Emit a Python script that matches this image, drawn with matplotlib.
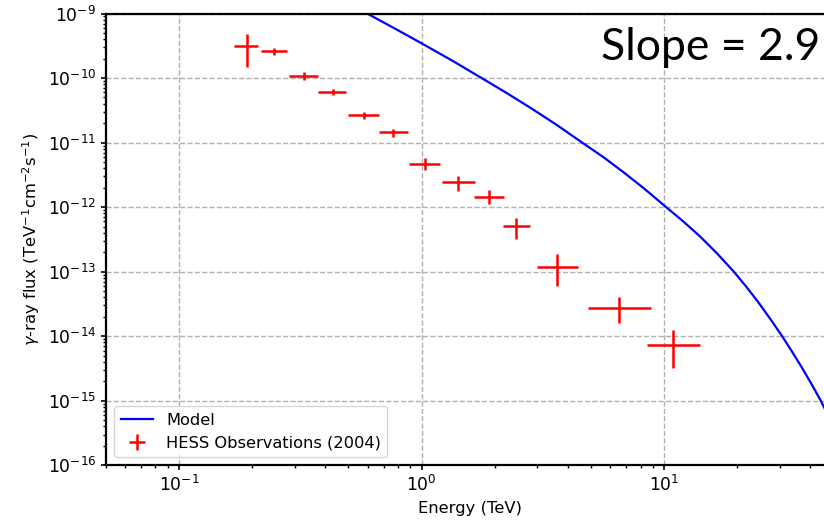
import matplotlib
matplotlib.use('Agg')
import matplotlib.pyplot as plt
import numpy as np

# HESS spectrum points: energy (TeV), flux, and the bin / error extents
energy = [0.190, 0.246, 0.327, 0.430, 0.578, 0.764, 1.029, 1.41, 1.89, 2.455, 3.625, 6.55, 10.87]
e_low = [0.169, 0.217, 0.284, 0.375, 0.500, 0.667, 0.886, 1.21, 1.643, 2.164, 2.99, 4.88, 8.47]
e_high = [0.212, 0.279, 0.375, 0.490, 0.671, 0.878, 1.19, 1.654, 2.185, 2.797, 4.41, 8.80, 14.01]
flux = [3.18e-10, 2.63e-10, 1.09e-10, 6.10e-11, 2.65e-11, 1.45e-11, 4.68e-12, 2.44e-12, 1.46e-12,
        5.08e-13, 1.20e-13, 2.73e-14, 7.40e-15]
flux_low = [1.50e-10, 2.28e-10, 9.35e-11, 5.42e-11, 2.30e-11, 1.24e-11, 3.74e-12, 1.79e-12, 1.11e-12,
            3.23e-13, 5.90e-14, 1.62e-14, 3.18e-15]
flux_high = [4.82e-10, 2.89e-10, 1.23e-10, 6.78e-11, 3.02e-11, 1.65e-11, 5.79e-12, 3.05e-12, 1.83e-12,
             6.90e-13, 1.87e-13, 3.99e-14, 1.25e-14]

# model spectrum
model_e = [0.597, 0.778, 1.0, 1.333, 1.77, 2.254, 2.858, 3.625, 4.596, 5.60, 6.83, 8.35, 10.2,
           11.98, 14.08, 16.52, 19.4, 21.77, 24.42, 27.37, 30.7, 33.65, 36.9, 40.45, 44.3, 50.0]
model_f = [1.0e-9, 5.83e-10, 3.46e-10, 1.88e-10, 1.0e-10, 5.81e-11, 3.33e-11, 1.86e-11, 1.0e-11,
           6.02e-12, 3.44e-12, 1.89e-12, 1.0e-12, 6.05e-13, 3.51e-13, 1.93e-13, 1.0e-13, 5.92e-14,
           3.40e-14, 1.87e-14, 1.0e-14, 5.83e-15, 3.33e-15, 1.85e-15, 1.0e-15, 4.0e-16]

slope = 2.9

energy = np.array(energy)
flux = np.array(flux)
xerr = [energy - np.array(e_low), np.array(e_high) - energy]
yerr = [flux - np.array(flux_low), np.array(flux_high) - flux]

fig = plt.figure(figsize=(8.24, 5.2), dpi=100)
ax = fig.add_axes([0.1286, 0.1052, 0.883, 0.8688])

ax.plot(model_e, model_f, color='b', lw=1.6, label='Model')
ax.errorbar(energy, flux, xerr=xerr, yerr=yerr, fmt='none', ecolor='r', elinewidth=1.8,
            label='HESS Observations (2004)')

ax.set_xscale('log')
ax.set_yscale('log')
ax.set_xlim(0.05, 50)
ax.set_ylim(1e-16, 1e-9)
ax.grid(True, which='major', ls='--', color='#b0b0b0', lw=1.0)

ax.set_xlabel('Energy (TeV)', fontsize=11.8)
ax.set_ylabel(r'$\gamma$-ray flux (TeV$^{-1}$cm$^{-2}$s$^{-1}$)', fontsize=11.8)
ax.tick_params(which='major', labelsize=12.3, width=1.2)
ax.tick_params(which='minor', width=1.0)
for s in ax.spines.values():
    s.set_linewidth(1.6)

ax.legend(loc='lower left', fontsize=11.7)

fig.text(0.995, 1 - 60 / 520, 'Slope = %.1f' % slope, ha='right', va='baseline',
         fontsize=32, family='Lato')

fig.savefig('out.png', dpi=100)
